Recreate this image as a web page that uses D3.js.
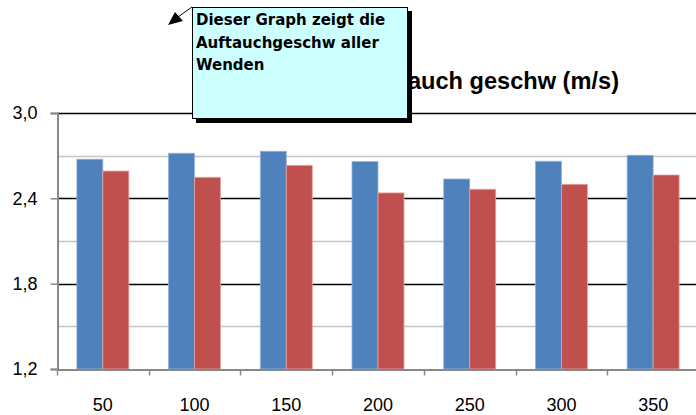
<!DOCTYPE html>
<head>
  <meta charset="utf-8">
  <style>
    body { margin: 0; background: #fff; }
  </style>
</head>
<body>
<script src="https://cdnjs.cloudflare.com/ajax/libs/d3/7.8.5/d3.min.js"></script>
<script>

// data
var categories = ["50", "100", "150", "200", "250", "300", "350"];
var series1 = [2.675, 2.717, 2.731, 2.658, 2.536, 2.661, 2.703];
var series2 = [2.592, 2.548, 2.632, 2.438, 2.464, 2.499, 2.564];
var yTicks = [1.2, 1.5, 1.8, 2.1, 2.4, 2.7, 3.0];
var yLabels = [1.2, 1.8, 2.4, 3.0];
var majorLines = [1.8, 2.4, 3.0];
var noteLines = ["Dieser Graph zeigt die", "Auftauchgeschw aller", "Wenden"];

var W = 696, H = 415;
var arial = "'Liberation Sans', Arial, sans-serif";

var svg = d3.select("body").append("svg")
    .attr("width", W)
    .attr("height", H);

var x = d3.scaleBand()
    .domain(categories)
    .range([57, 699]);

var y = d3.scaleLinear()
    .domain([1.2, 3.0])
    .range([369, 113]);

var barW = 26;
var x1 = d3.scaleBand()
    .domain([0, 1])
    .range([x.bandwidth() / 2 - barW, x.bandwidth() / 2 + barW]);

function isMajor(d) {
  return majorLines.some(function(m) { return Math.abs(m - d) < 1e-6; });
}

// gridlines
svg.append("g")
  .selectAll("line")
  .data(yTicks.filter(function(d) { return d > 1.2; }))
  .enter().append("line")
    .attr("x1", 57)
    .attr("x2", W)
    .attr("y1", function(d) { return Math.round(y(d)) + 0.5; })
    .attr("y2", function(d) { return Math.round(y(d)) + 0.5; })
    .attr("stroke", function(d) { return isMajor(d) ? "#000" : "#c4c4c4"; })
    .attr("stroke-width", function(d) { return isMajor(d) ? 1.3 : 1.5; });

// bars
var rows = categories.map(function(c, i) {
  return { cat: c, vals: [series1[i], series2[i]] };
});
var colours = ["#4f81bd", "#c0504d"];
var edges = ["#95b3d7", "#e6a5a3"];

var groups = svg.append("g")
  .selectAll("g")
  .data(rows)
  .enter().append("g")
    .attr("transform", function(d) { return "translate(" + x(d.cat) + ",0)"; });

groups.selectAll("rect")
  .data(function(d) { return d.vals; })
  .enter().append("rect")
    .attr("x", function(d, i) { return x1(i); })
    .attr("width", x1.bandwidth())
    .attr("y", function(d) { return y(d); })
    .attr("height", function(d) { return y(1.2) - y(d); })
    .attr("fill", function(d, i) { return colours[i]; })
    .attr("stroke", function(d, i) { return edges[i]; })
    .attr("stroke-width", 0.8);

// y axis
var yAxis = d3.axisLeft(y)
    .tickValues(yLabels)
    .tickSize(7)
    .tickPadding(13)
    .tickFormat(function(d) { return d3.format(".1f")(d).replace(".", ","); });

var yg = svg.append("g")
    .attr("transform", "translate(57.5,0)")
    .call(yAxis);
yg.select(".domain").attr("stroke", "#888").attr("stroke-width", 2);
yg.selectAll(".tick line").attr("stroke", "#888").attr("stroke-width", 1.5);
yg.selectAll("text")
    .style("font-family", arial)
    .style("font-size", "18px")
    .attr("fill", "#000");

// x axis
var xAxis = d3.axisBottom(x)
    .tickSize(0)
    .tickPadding(29);

var xg = svg.append("g")
    .attr("transform", "translate(0," + (y(1.2) + 0.5) + ")")
    .call(xAxis);
xg.select(".domain").attr("stroke", "#888").attr("stroke-width", 2);
xg.selectAll("text")
    .style("font-family", arial)
    .style("font-size", "18px")
    .attr("fill", "#000");

// tick marks between categories
xg.append("g")
  .selectAll("line")
  .data(categories)
  .enter().append("line")
    .attr("x1", function(d) { return Math.round(x(d)) + 0.5; })
    .attr("x2", function(d) { return Math.round(x(d)) + 0.5; })
    .attr("y1", 0)
    .attr("y2", 6)
    .attr("stroke", "#888")
    .attr("stroke-width", 1.5);

// title (mostly hidden behind the note)
svg.append("text")
    .attr("x", 619)
    .attr("y", 89)
    .attr("text-anchor", "end")
    .style("font-family", arial)
    .style("font-size", "23.6px")
    .style("font-weight", "bold")
    .attr("fill", "#000")
    .text("Auftauch geschw (m/s)");

// callout note
var note = svg.append("g");

note.append("rect")
    .attr("x", 196)
    .attr("y", 11)
    .attr("width", 216)
    .attr("height", 112)
    .attr("fill", "#000");

note.append("rect")
    .attr("x", 192.5)
    .attr("y", 7.5)
    .attr("width", 215)
    .attr("height", 111)
    .attr("fill", "#ccffff")
    .attr("stroke", "#000")
    .attr("stroke-width", 1);

note.selectAll("text")
  .data(noteLines)
  .enter().append("text")
    .attr("x", 196)
    .attr("y", function(d, i) { return 25 + i * 22.5; })
    .style("font-family", "'DejaVu Sans', Verdana, sans-serif")
    .style("font-size", "15px")
    .style("font-weight", "bold")
    .attr("fill", "#000")
    .text(function(d) { return d; });

// pointer arrow
note.append("line")
    .attr("x1", 192)
    .attr("y1", 7)
    .attr("x2", 178)
    .attr("y2", 17)
    .attr("stroke", "#000")
    .attr("stroke-width", 1);

note.append("path")
    .attr("d", "M168,25 L175,12 L183,21 Z")
    .attr("fill", "#000");

</script>
</body>
